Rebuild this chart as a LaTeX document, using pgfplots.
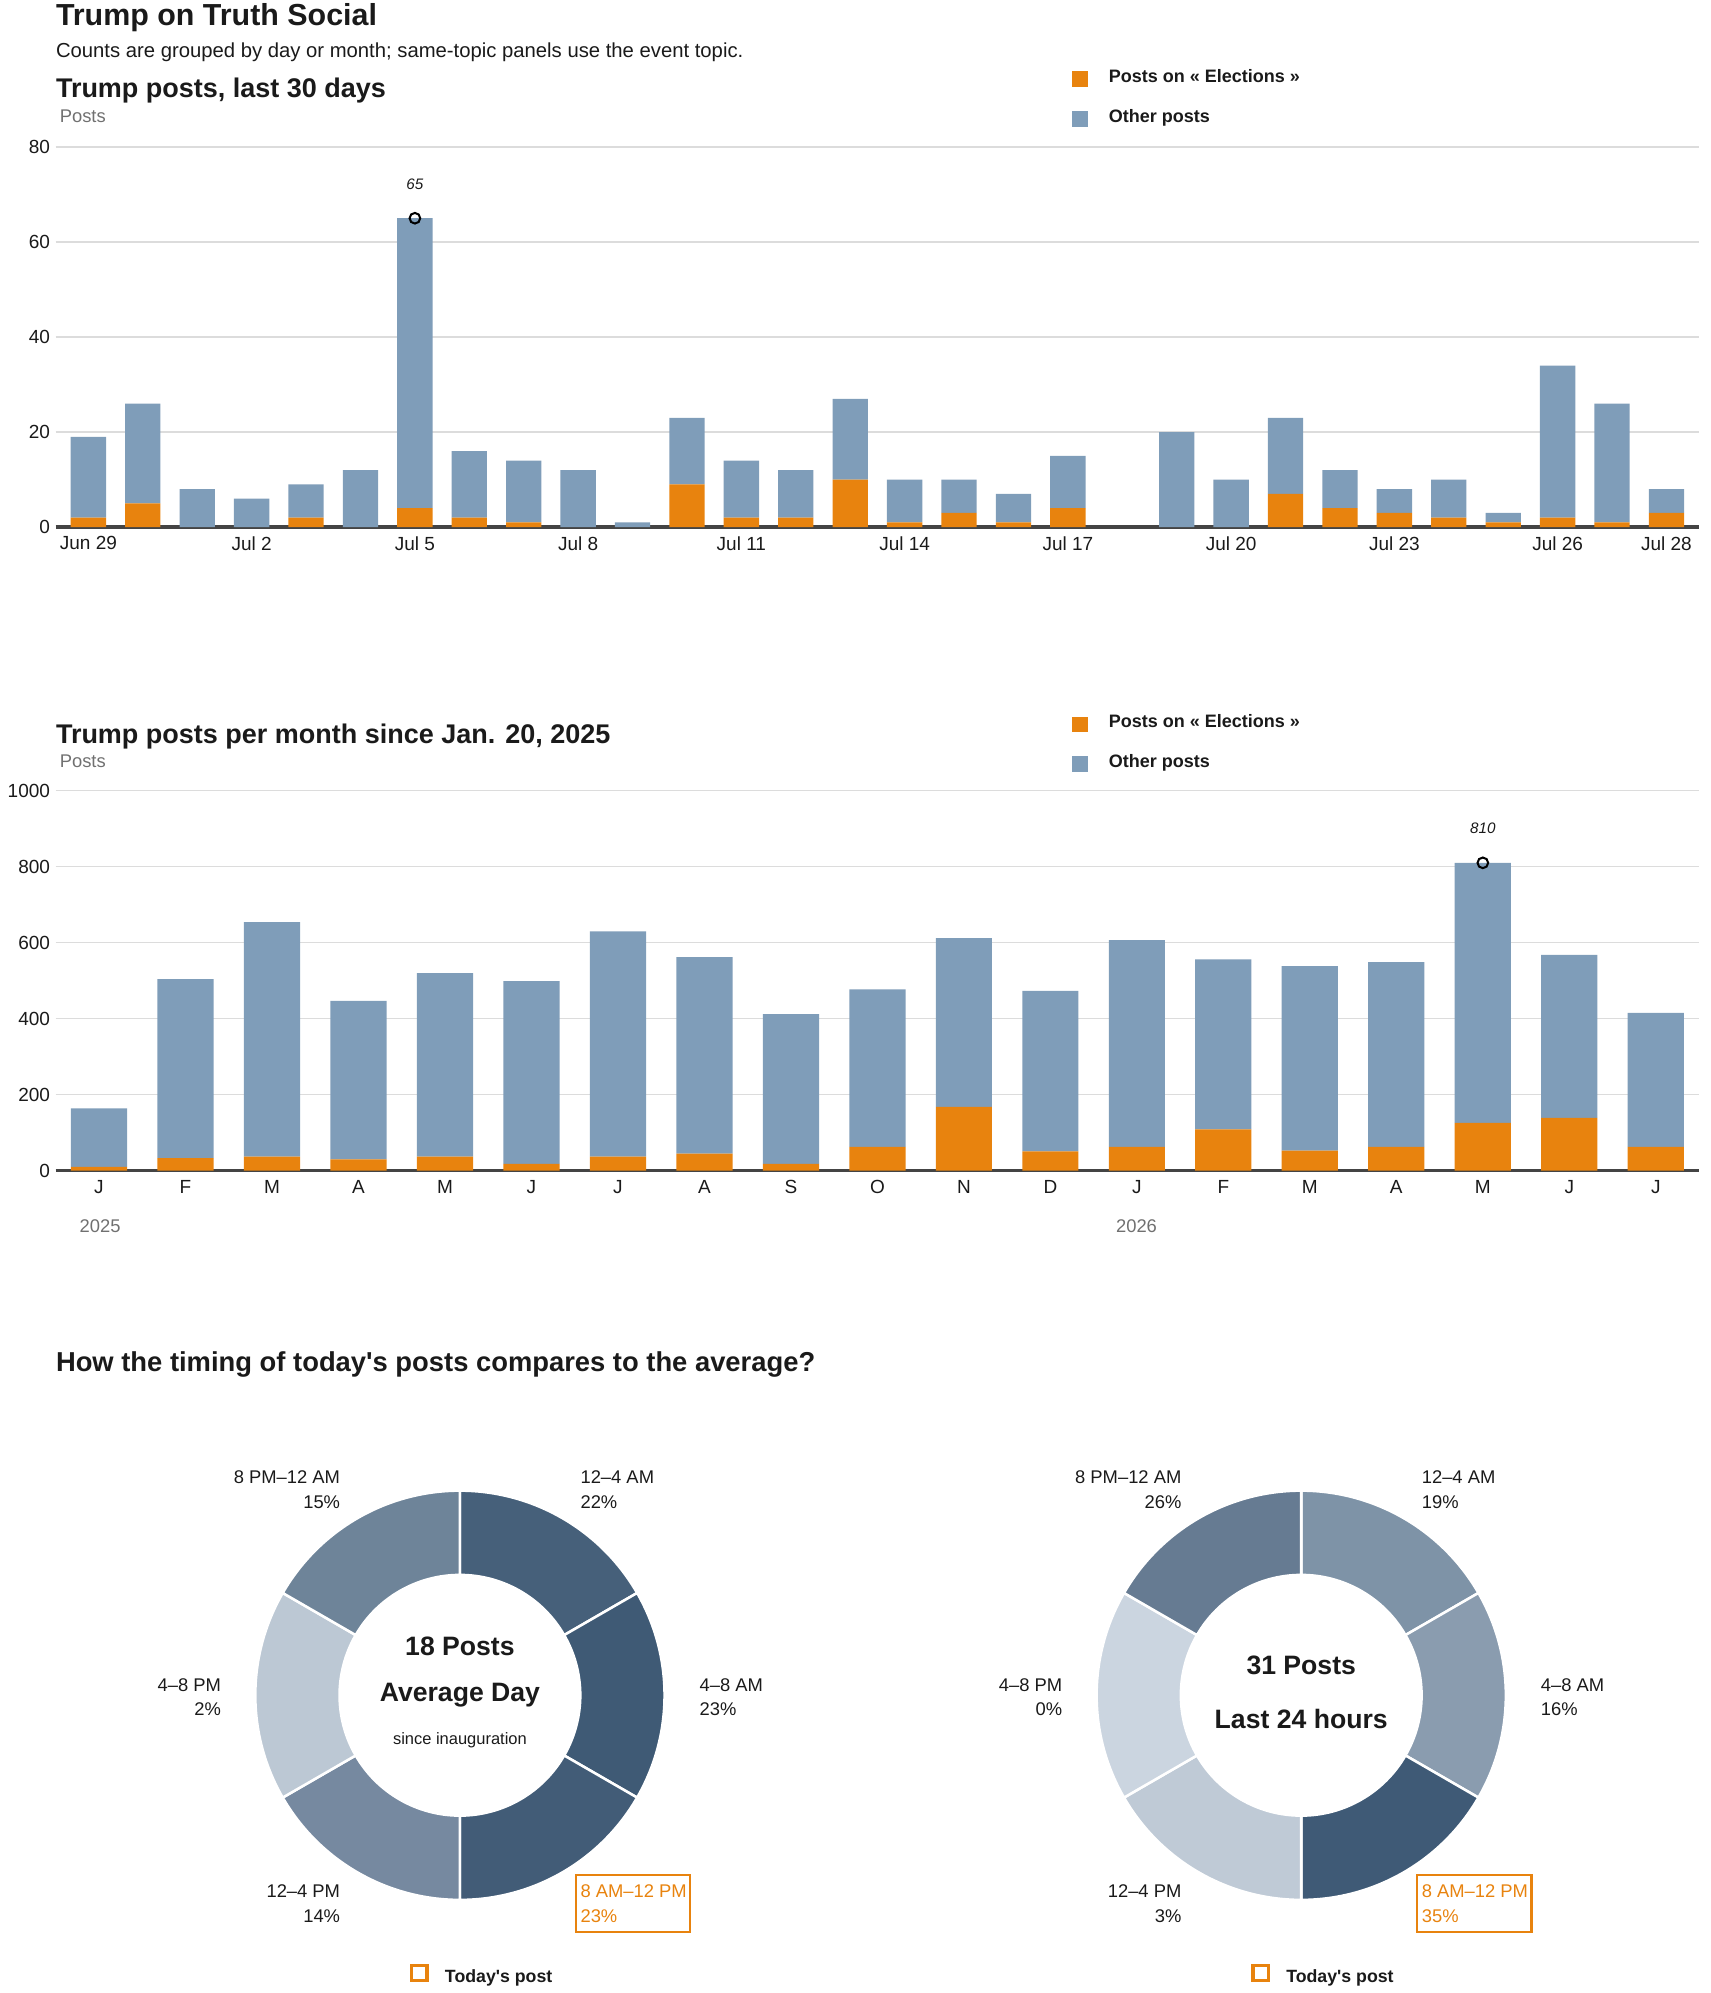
\documentclass[border=0pt]{standalone}
\usepackage{pgfplots}
\pgfplotsset{compat=1.18}
\usepackage{pgfplotstable}
\usepackage{fontspec}
\setmainfont{Liberation Sans}[Ligatures=TeXOff]

\definecolor{elec}{HTML}{E8830E}
\definecolor{other}{HTML}{7F9DB9}
\definecolor{gridc}{HTML}{DCDCDC}
\definecolor{basec}{HTML}{444444}
\definecolor{txt}{HTML}{1A1A1A}
\definecolor{mute}{HTML}{707070}
\definecolor{da}{HTML}{46607A}
\definecolor{db}{HTML}{3F5A75}
\definecolor{dc}{HTML}{425C77}
\definecolor{dd}{HTML}{7689A0}
\definecolor{de}{HTML}{BCC8D4}
\definecolor{df}{HTML}{6E8499}
\definecolor{ea}{HTML}{7E93A7}
\definecolor{eb}{HTML}{8A9CAF}
\definecolor{ec}{HTML}{3F5A76}
\definecolor{ed}{HTML}{BFCAD6}
\definecolor{ee}{HTML}{CBD5E0}
\definecolor{ef}{HTML}{667B92}

\newcommand\fs[1]{\fontsize{#1}{#1}\selectfont}

\pgfplotstableread{
i e o
0 2 17
1 5 21
2 0 8
3 0 6
4 2 7
5 0 12
6 4 61
7 2 14
8 1 13
9 0 12
10 0 1
11 9 14
12 2 12
13 2 10
14 10 17
15 1 9
16 3 7
17 1 6
18 4 11
19 0 0
20 0 20
21 0 10
22 7 16
23 4 8
24 3 5
25 2 8
26 1 2
27 2 32
28 1 25
29 3 5
}\daily

\pgfplotstableread{
i e o
0 10 154
1 33 471
2 37 617
3 30 417
4 37 483
5 18 481
6 37 593
7 45 517
8 18 394
9 63 414
10 168 444
11 51 422
12 63 544
13 109 447
14 53 485
15 63 486
16 126 684
17 139 429
18 63 352
}\monthly

\pgfplotsset{
  geom/.style={scale only axis, width=1297pt, height=300pt, anchor=south west, ymin=0},
  barax/.style={geom,
    major tick length=0pt, axis line style={draw=none},
    ymajorgrids, grid style={gridc, line width=1pt},
    tick label style={font=\fs{15}, text=txt},
    xticklabel style={yshift=-4pt},
    yticklabel style={xshift=-1pt},
    /pgf/number format/assume math mode=true, /pgf/number format/1000 sep={},
    clip=false, ybar stacked},
  maxmark/.style={only marks, mark=o, mark size=4.2pt,
    mark options={line width=1.6pt, draw=black},
    nodes near coords,
    nodes near coords style={font=\itshape\fs{12}, text=txt, anchor=south, inner sep=0pt, yshift=22pt},
    /pgf/number format/assume math mode=true, /pgf/number format/1000 sep={}},
}

\newcommand\slice[5]{%
  \fill[#5, draw=white, line width=2pt] (#1pt,#2pt) ++(#3:161.5pt)
    arc[start angle=#3, end angle=#4, radius=161.5pt] -- ++(#4:-66.5pt)
    arc[start angle=#4, end angle=#3, radius=95pt] -- cycle;}

\begin{document}
\begin{tikzpicture}
\path[use as bounding box] (0,0) rectangle (1350pt,-1573pt);

% headings
\node[anchor=base west, inner sep=0, text=txt, font=\bfseries\fs{24}] at (44pt,-20.5pt) {Trump on Truth Social};
\node[anchor=base west, inner sep=0, text=txt, font=\fs{16}] at (44pt,-45pt) {Counts are grouped by day or month; same-topic panels use the event topic.};
\node[anchor=base west, inner sep=0, text=txt, font=\bfseries\fs{21.3}] at (44pt,-76.8pt) {Trump posts, last 30 days};
\node[anchor=base west, inner sep=0, text=mute, font=\fs{14.5}] at (47pt,-96.7pt) {Posts};

% legend 1
\fill[elec] (846pt,-56pt) rectangle (858.5pt,-68.7pt);
\fill[other] (846pt,-87.7pt) rectangle (858.5pt,-100.3pt);
\node[anchor=base west, inner sep=0, text=txt, font=\bfseries\fs{14.2}] at (875pt,-64.9pt) {Posts on « Elections »};
\node[anchor=base west, inner sep=0, text=txt, font=\bfseries\fs{14.2}] at (875pt,-96.4pt) {Other posts};

% daily chart
\begin{axis}[barax, at={(44pt,-416pt)}, xmin=-0.6, xmax=29.6, ymax=80,
  bar width=0.65, ytick={0,20,40,60,80},
  xtick={0,3,6,9,12,15,18,21,24,27,29},
  xticklabels={Jun 29,Jul 2,Jul 5,Jul 8,Jul 11,Jul 14,Jul 17,Jul 20,Jul 23,Jul 26,Jul 28}]
\addplot[fill=elec, draw=none] table[x=i, y=e]{\daily};
\addplot[fill=other, draw=none] table[x=i, y=o]{\daily};
\draw[basec, line width=2.5pt] (rel axis cs:0,0) -- (rel axis cs:1,0);
\end{axis}
\begin{axis}[geom, hide axis, at={(44pt,-416pt)}, xmin=-0.6, xmax=29.6, ymax=80]
\addplot[maxmark] coordinates {(6,65)};
\end{axis}

% monthly heading
\node[anchor=base west, inner sep=0, text=txt, font=\bfseries\fs{21.3}] at (44pt,-586.5pt) {Trump posts per month since Jan. 20, 2025};
\node[anchor=base west, inner sep=0, text=mute, font=\fs{14.5}] at (47pt,-606pt) {Posts};
\fill[elec] (846pt,-565.6pt) rectangle (858.5pt,-578pt);
\fill[other] (846pt,-597pt) rectangle (858.5pt,-609.5pt);
\node[anchor=base west, inner sep=0, text=txt, font=\bfseries\fs{14.2}] at (875pt,-574.4pt) {Posts on « Elections »};
\node[anchor=base west, inner sep=0, text=txt, font=\bfseries\fs{14.2}] at (875pt,-605.8pt) {Other posts};

\begin{axis}[barax, at={(44pt,-924pt)}, xmin=-0.5, xmax=18.5, ymax=1000,
  bar width=0.65, ytick={0,200,400,600,800,1000},
  xtick={0,...,18},
  xticklabels={J,F,M,A,M,J,J,A,S,O,N,D,J,F,M,A,M,J,J}]
\addplot[fill=elec, draw=none] table[x=i, y=e]{\monthly};
\addplot[fill=other, draw=none] table[x=i, y=o]{\monthly};
\draw[basec, line width=2.5pt] (rel axis cs:0,0) -- (rel axis cs:1,0);
\end{axis}
\begin{axis}[geom, hide axis, at={(44pt,-924pt)}, xmin=-0.5, xmax=18.5, ymax=1000]
\addplot[maxmark] coordinates {(16,810)};
\end{axis}
\node[anchor=base, inner sep=0, text=mute, font=\fs{14.5}] at (79pt,-973pt) {2025};
\node[anchor=base, inner sep=0, text=mute, font=\fs{14.5}] at (897pt,-973pt) {2026};

% donut section
\node[anchor=base west, inner sep=0, text=txt, font=\bfseries\fs{21.6}] at (44pt,-1082.8pt) {How the timing of today's posts compares to the average?};

% donut 1
\slice{363}{-1338}{90}{30}{da}
\slice{363}{-1338}{30}{-30}{db}
\slice{363}{-1338}{-30}{-90}{dc}
\slice{363}{-1338}{-90}{-150}{dd}
\slice{363}{-1338}{-150}{-210}{de}
\slice{363}{-1338}{-210}{-270}{df}

% donut 2
\slice{1027}{-1338}{90}{30}{ea}
\slice{1027}{-1338}{30}{-30}{eb}
\slice{1027}{-1338}{-30}{-90}{ec}
\slice{1027}{-1338}{-90}{-150}{ed}
\slice{1027}{-1338}{-150}{-210}{ee}
\slice{1027}{-1338}{-210}{-270}{ef}

\begin{scope}[every node/.style={inner sep=0, text=txt, font=\fs{14.5}}]
% donut 1 labels
\node[anchor=base west] at (458pt,-1171pt) {12–4 AM};
\node[anchor=base west] at (458pt,-1190.5pt) {22\%};
\node[anchor=base east] at (268.6pt,-1171pt) {8 PM–12 AM};
\node[anchor=base east] at (268.6pt,-1190.5pt) {15\%};
\node[anchor=base west] at (552pt,-1335pt) {4–8 AM};
\node[anchor=base west] at (552pt,-1354pt) {23\%};
\node[anchor=base east] at (174.6pt,-1335pt) {4–8 PM};
\node[anchor=base east] at (174.6pt,-1354pt) {2\%};
\node[anchor=base east] at (268.6pt,-1498pt) {12–4 PM};
\node[anchor=base east] at (268.6pt,-1517.5pt) {14\%};
\node[anchor=base west, text=elec] at (458pt,-1498pt) {8 AM–12 PM};
\node[anchor=base west, text=elec] at (458pt,-1517.5pt) {23\%};
% donut 2 labels
\node[anchor=base west] at (1122pt,-1171pt) {12–4 AM};
\node[anchor=base west] at (1122pt,-1190.5pt) {19\%};
\node[anchor=base east] at (932.6pt,-1171pt) {8 PM–12 AM};
\node[anchor=base east] at (932.6pt,-1190.5pt) {26\%};
\node[anchor=base west] at (1216pt,-1335pt) {4–8 AM};
\node[anchor=base west] at (1216pt,-1354pt) {16\%};
\node[anchor=base east] at (838.6pt,-1335pt) {4–8 PM};
\node[anchor=base east] at (838.6pt,-1354pt) {0\%};
\node[anchor=base east] at (932.6pt,-1498pt) {12–4 PM};
\node[anchor=base east] at (932.6pt,-1517.5pt) {3\%};
\node[anchor=base west, text=elec] at (1122pt,-1498pt) {8 AM–12 PM};
\node[anchor=base west, text=elec] at (1122pt,-1517.5pt) {35\%};
\end{scope}
\draw[elec, line width=2pt] (454.5pt,-1480pt) rectangle (544.6pt,-1525pt);
\draw[elec, line width=2pt] (1118.5pt,-1480pt) rectangle (1208.6pt,-1525pt);

% centre texts
\node[anchor=base, inner sep=0, text=txt, font=\bfseries\fs{21}] at (363pt,-1307pt) {18 Posts};
\node[anchor=base, inner sep=0, text=txt, font=\bfseries\fs{21}] at (363pt,-1343pt) {Average Day};
\node[anchor=base, inner sep=0, text=txt, font=\fs{13}] at (363pt,-1377pt) {since inauguration};
\node[anchor=base, inner sep=0, text=txt, font=\bfseries\fs{21}] at (1027pt,-1321.5pt) {31 Posts};
\node[anchor=base, inner sep=0, text=txt, font=\bfseries\fs{21}] at (1027pt,-1364pt) {Last 24 hours};

% today's post legends
\draw[elec, line width=2.6pt] (325pt,-1551pt) rectangle (337pt,-1563pt);
\node[anchor=base west, inner sep=0, text=txt, font=\bfseries\fs{14}] at (351pt,-1565pt) {Today's post};
\draw[elec, line width=2.6pt] (989pt,-1551pt) rectangle (1001pt,-1563pt);
\node[anchor=base west, inner sep=0, text=txt, font=\bfseries\fs{14}] at (1015pt,-1565pt) {Today's post};
\end{tikzpicture}
\end{document}
